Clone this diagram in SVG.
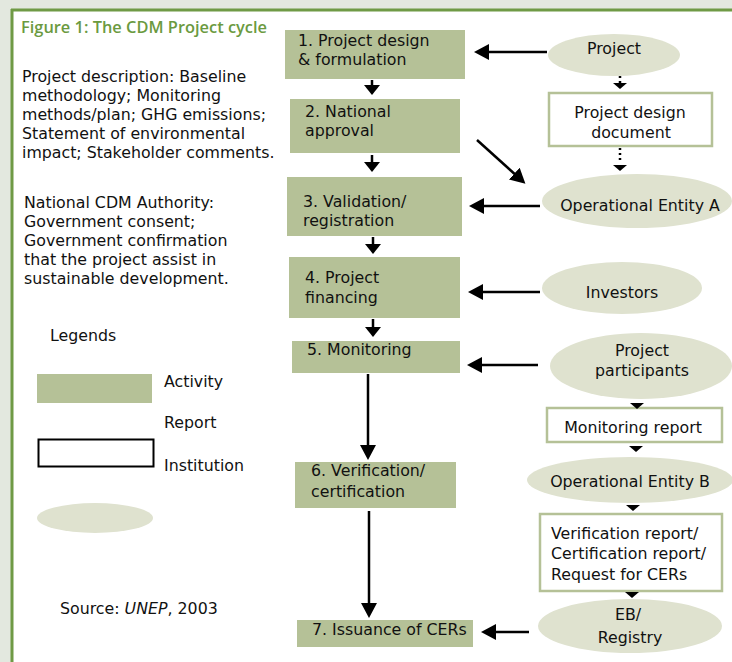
<svg xmlns="http://www.w3.org/2000/svg" width="732" height="662" viewBox="0 0 732 662">
<defs>
<style>
text{font-family:"DejaVu Sans","Noto Sans",sans-serif;font-size:15.8px;fill:#111}
.title{font-family:"Open Sans","Noto Sans",sans-serif;font-weight:600;fill:#6b9a3f;font-size:16.4px}
.act{fill:#b5c197}
.rep{fill:#fff;stroke:#b5c197;stroke-width:2.5}
.inst{fill:#dfe2cf}
.c{text-anchor:middle}
.conn line{stroke:#000;stroke-width:2.5}
.dot{stroke:#000;stroke-width:2;stroke-dasharray:2 3}
</style>
<marker id="ah" markerUnits="userSpaceOnUse" markerWidth="16" markerHeight="18" refX="5" refY="8" orient="auto"><path d="M0,0 L15,8 L0,16 Z" fill="#000"/></marker>
<marker id="ahs" markerUnits="userSpaceOnUse" markerWidth="12" markerHeight="16" refX="3" refY="8" orient="auto"><path d="M0,0 L10,8 L0,16 Z" fill="#000"/></marker>
<path id="flat" d="M-7,0 L7,0 L0,6 Z" fill="#000"/>
</defs>
<rect x="0" y="0" width="732" height="662" fill="#e3e8df"/>
<rect x="12" y="10" width="720" height="652" fill="#fff"/>
<line x1="11" y1="10" x2="732" y2="10" stroke="#6f9a45" stroke-width="3"/>
<line x1="12" y1="9" x2="12" y2="662" stroke="#6f9a45" stroke-width="3"/>

<g id="left-text">
<text class="title" x="21" y="33">Figure 1: The CDM Project cycle</text>
<text x="22" y="82">Project description: Baseline</text>
<text x="22" y="101">methodology; Monitoring</text>
<text x="22" y="120">methods/plan; GHG emissions;</text>
<text x="22" y="139">Statement of environmental</text>
<text x="22" y="158">impact; Stakeholder comments.</text>
<text x="24" y="208">National CDM Authority:</text>
<text x="24" y="227">Government consent;</text>
<text x="24" y="246">Government confirmation</text>
<text x="24" y="265">that the project assist in</text>
<text x="24" y="284">sustainable development.</text>
<text x="50" y="341">Legends</text>
<text x="60" y="614">Source: <tspan font-style="italic">UNEP</tspan>, 2003</text>
</g>

<g id="legend">
<rect class="act" x="37" y="374" width="115" height="29"/>
<text x="164" y="387">Activity</text>
<text x="164" y="428">Report</text>
<rect x="38.5" y="439.5" width="115" height="27" fill="#fff" stroke="#000" stroke-width="2"/>
<text x="164" y="471">Institution</text>
<ellipse class="inst" cx="95" cy="518" rx="58" ry="15"/>
</g>

<g id="s1"><rect class="act" x="285" y="30" width="180" height="49"/><text x="298" y="46">1. Project design</text><text x="298" y="65">&amp; formulation</text></g>
<g id="s2"><rect class="act" x="290" y="99" width="170" height="54"/><text x="305" y="117">2. National</text><text x="305" y="136">approval</text></g>
<g id="s3"><rect class="act" x="287" y="177" width="175" height="59"/><text x="303" y="207">3. Validation/</text><text x="303" y="226">registration</text></g>
<g id="s4"><rect class="act" x="289" y="257" width="171" height="61"/><text x="305" y="283">4. Project</text><text x="305" y="303">financing</text></g>
<g id="s5"><rect class="act" x="292" y="341" width="168" height="32"/><text x="307" y="355">5. Monitoring</text></g>
<g id="s6"><rect class="act" x="295" y="462" width="161" height="46"/><text x="311" y="476">6. Verification/</text><text x="311" y="497">certification</text></g>
<g id="s7"><rect class="act" x="297" y="620" width="176" height="27"/><text x="312" y="635">7. Issuance of CERs</text></g>

<g id="project"><ellipse class="inst" cx="614" cy="55" rx="66" ry="21"/><text class="c" x="614" y="54">Project</text></g>
<g id="pdd"><rect class="rep" x="549" y="93" width="163" height="53"/><text class="c" x="630" y="118">Project design</text><text class="c" x="631" y="138">document</text></g>
<g id="oea"><ellipse class="inst" cx="637" cy="201" rx="95" ry="27"/><text class="c" x="640" y="211">Operational Entity A</text></g>
<g id="investors"><ellipse class="inst" cx="622" cy="288" rx="80" ry="26"/><text class="c" x="622" y="298">Investors</text></g>
<g id="pp"><ellipse class="inst" cx="641" cy="366" rx="91" ry="33"/><text class="c" x="642" y="356">Project</text><text class="c" x="642" y="376">participants</text></g>
<g id="mr"><rect class="rep" x="547" y="408" width="175" height="34"/><text class="c" x="633" y="433">Monitoring report</text></g>
<g id="oeb"><ellipse class="inst" cx="630" cy="480" rx="103" ry="23"/><text class="c" x="630" y="487">Operational Entity B</text></g>
<g id="vr"><rect class="rep" x="540" y="514" width="182" height="77"/><text x="551" y="539">Verification report/</text><text x="551" y="559">Certification report/</text><text x="551" y="580">Request for CERs</text></g>
<g id="eb"><ellipse class="inst" cx="630" cy="626" rx="92" ry="27"/><text class="c" x="628" y="620">EB/</text><text class="c" x="630" y="643">Registry</text></g>

<g id="connectors" class="conn">
<line x1="372" y1="80" x2="372" y2="88" marker-end="url(#ahs)"/>
<line x1="372" y1="155" x2="372" y2="165" marker-end="url(#ahs)"/>
<line x1="373" y1="237" x2="373" y2="247" marker-end="url(#ahs)"/>
<line x1="373" y1="319" x2="373" y2="330" marker-end="url(#ahs)"/>
<line x1="368" y1="374" x2="368" y2="450" marker-end="url(#ah)"/>
<line x1="369" y1="511" x2="369" y2="608" marker-end="url(#ah)"/>
<line x1="547" y1="52" x2="484" y2="52" marker-end="url(#ah)"/>
<line x1="540" y1="206" x2="479" y2="206" marker-end="url(#ah)"/>
<line x1="540" y1="292" x2="478" y2="292" marker-end="url(#ah)"/>
<line x1="538" y1="365" x2="477" y2="365" marker-end="url(#ah)"/>
<line x1="529" y1="632" x2="491" y2="632" marker-end="url(#ah)"/>
<line x1="477" y1="140" x2="518" y2="177" marker-end="url(#ah)"/>
<line class="dot" x1="620" y1="76" x2="620" y2="83"/>
<use href="#flat" x="620" y="83"/>
<line class="dot" x1="620" y1="148" x2="620" y2="163"/>
<use href="#flat" x="620" y="165"/>
<use href="#flat" x="637" y="403"/>
<use href="#flat" x="636" y="446"/>
<use href="#flat" x="633" y="505"/>
<use href="#flat" x="632" y="592"/>
</g>
</svg>
